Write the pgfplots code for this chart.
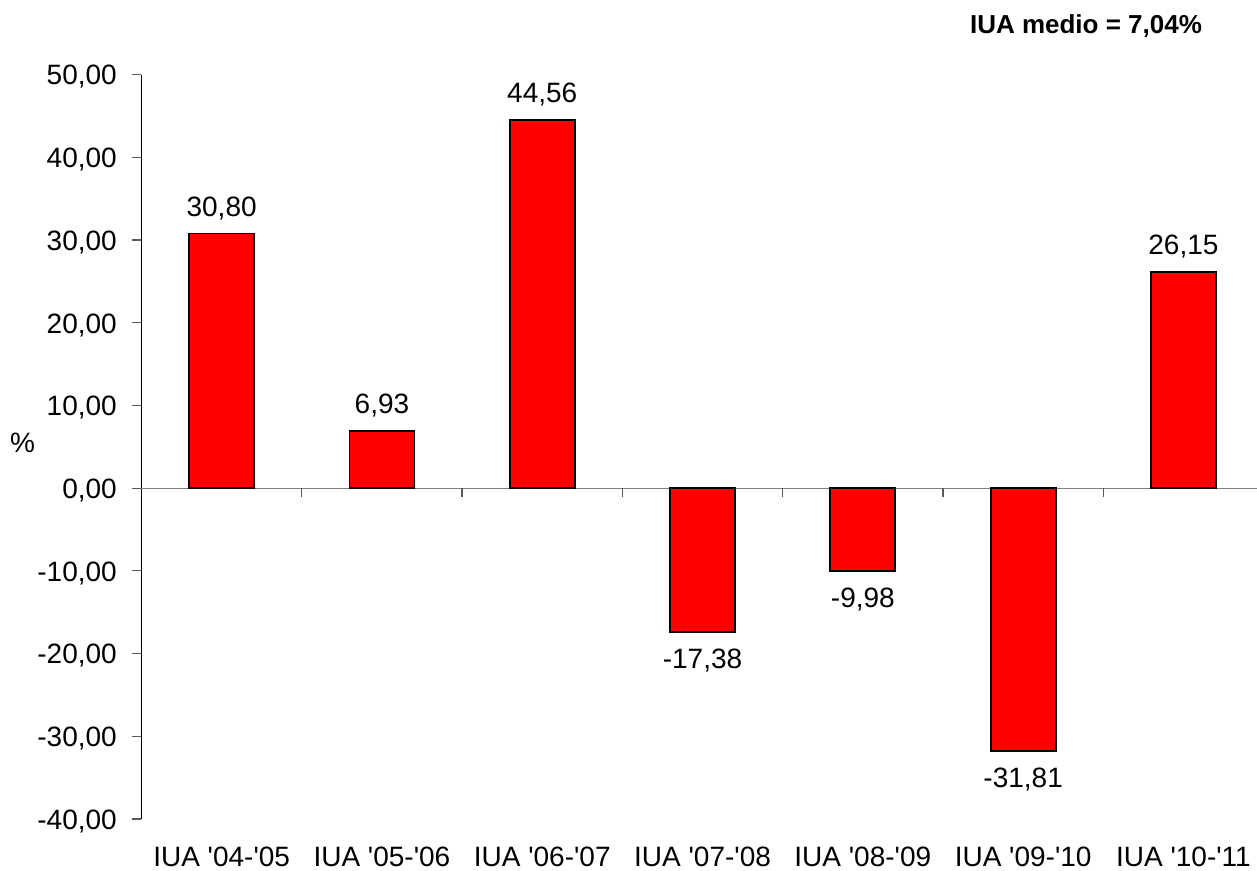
\documentclass[border=0pt]{standalone}
\usepackage{fontspec}
\setmainfont{Liberation Sans}[Ligatures=TeXOff]
\usepackage{pgfplots}
\pgfplotsset{compat=1.18}
\begin{document}
\begin{tikzpicture}
\begin{axis}[
  at={(0pt,0pt)}, anchor=south west,
  scale only axis, width=557.75pt, height=372.15pt,
  xmin=-0.5, xmax=6.459, ymin=-40, ymax=50,
  axis y line*=left, axis x line*=bottom,
  x axis line style={draw=none},
  y axis line style={black, line width=0.5pt, -},
  xtick={0,1,2,3,4,5,6},
  xticklabels={IUA '04-'05, IUA '05-'06, IUA '06-'07, IUA '07-'08, IUA '08-'09, IUA '09-'10, IUA '10-'11},
  xtick style={draw=none},
  ytick={-40,-30,-20,-10,0,10,20,30,40,50},
  ytick style={gray!70!black, line width=0.6pt},
  tick align=outside, major tick length=4.65pt,
  tick label style={font=\fontsize{14}{16}\selectfont},
  yticklabel style={anchor=base east, inner sep=0pt, xshift=-7.5pt, yshift=-5.15pt},
  xticklabel style={anchor=base, inner sep=0pt, yshift=-19pt},
  /pgf/number format/.cd, fixed, fixed zerofill, precision=2, use comma, assume math mode=true,
  /pgfplots/.cd,
  clip=false,
]
\draw[gray, line width=0.6pt] (axis cs:-0.5,0) -- (axis cs:6.459,0);
\pgfplotsinvokeforeach{0.5,1.5,2.5,3.5,4.5,5.5}{
  \draw[gray!70!black, line width=0.6pt] (axis cs:#1,0) -- ++(0pt,-4.5pt);
}
\addplot[ybar, bar width=32.5pt, bar shift=0pt, fill=red, draw=black, line width=0.9pt,
  nodes near coords={\pgfmathprintnumber[assume math mode=true]{\pgfplotspointmeta}},
  every node near coord/.append style={anchor=base, yshift=8.5pt, font=\fontsize{14}{16}\selectfont, text=black}]
  coordinates {(0,30.80) (1,6.93) (2,44.56) (6,26.15)};
\addplot[ybar, bar width=32.5pt, bar shift=0pt, fill=red, draw=black, line width=0.9pt,
  nodes near coords={\pgfmathprintnumber[assume math mode=true]{\pgfplotspointmeta}},
  every node near coord/.append style={anchor=base, yshift=-18.35pt, font=\fontsize{14}{16}\selectfont, text=black}]
  coordinates {(3,-17.38) (4,-9.98) (5,-31.81)};
\end{axis}
\node[font=\fontsize{14}{16}\selectfont] at (-59.5pt,188pt) {\%};
\node[font=\bfseries\fontsize{13}{15}\selectfont, anchor=base] at (472.25pt,392.85pt) {IUA medio = 7,04\%};
\pgfresetboundingbox
\path[use as bounding box] (-70.75pt,-26pt) rectangle (557.75pt,409.5pt);
\end{tikzpicture}
\end{document}
